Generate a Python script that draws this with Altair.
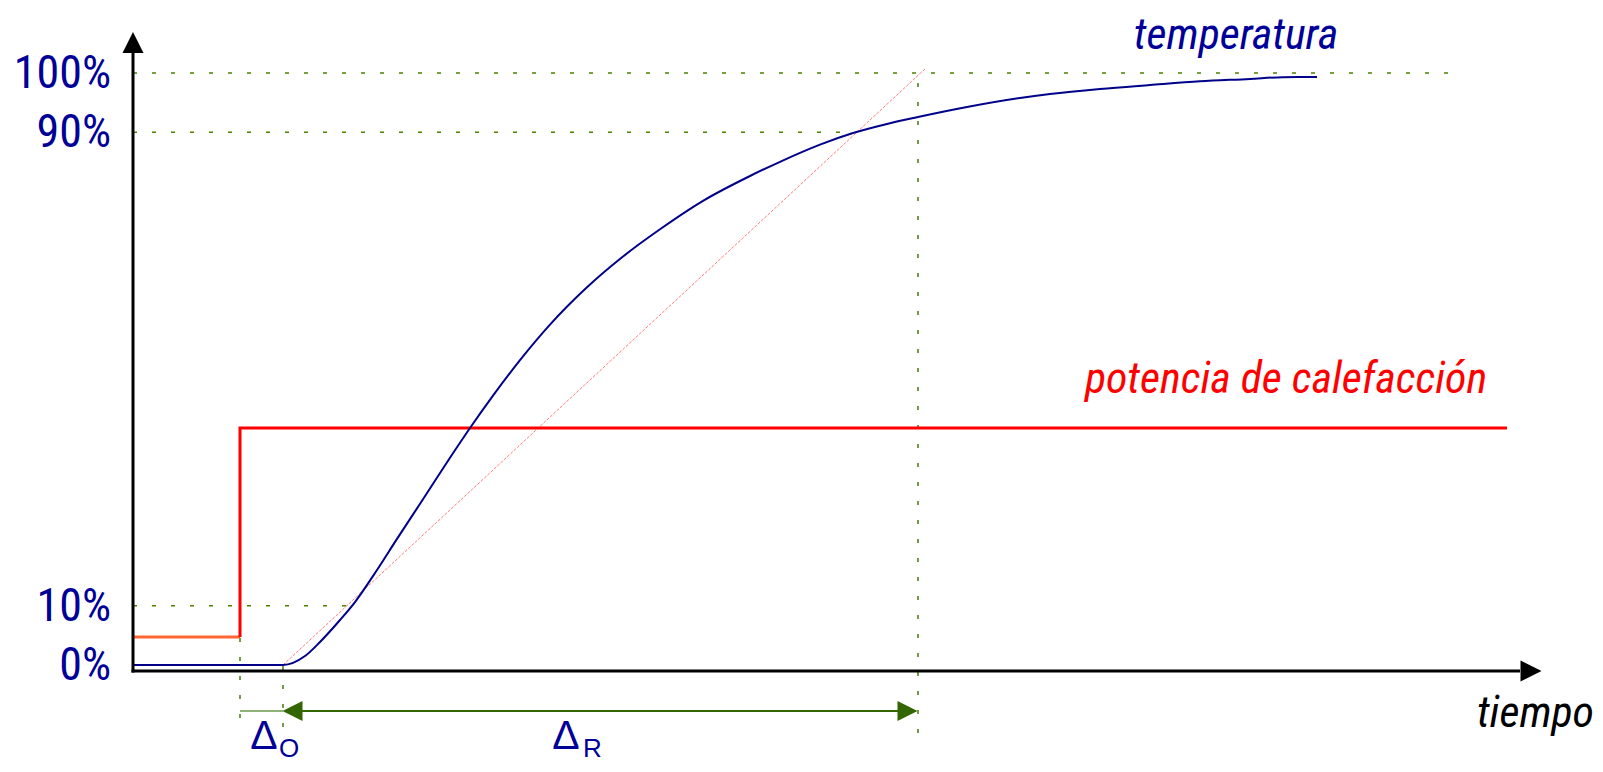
import altair as alt
import pandas as pd

# ---- data (time in arbitrary units, response in percent) ----
curve_t = [0, 15.0, 17.2, 18.7, 20.7, 22.2, 24.4, 26.4, 29.0, 31.7, 33.7, 36.0, 38.7, 41.7,
           45.4, 49.0, 52.7, 57.0, 61.7, 64.7, 68.7, 72.0, 75.4, 78.5, 83.4, 88.7, 91.7,
           96.7, 101.7, 106.7, 111.7, 115.0, 118.4]
curve_v = [0, 0, 1.52, 3.89, 7.60, 10.64, 16.05, 21.3, 28.0, 35.0, 40.03, 45.5, 51.5,
           57.5, 63.8, 69.0, 73.6, 78.4, 82.6, 85.0, 87.9, 89.86, 91.4, 92.57, 94.26,
           95.78, 96.45, 97.30, 97.97, 98.6, 99.0, 99.3, 99.32]

step_time = 10.7          # heating power switched on
dead_end = 15.0           # end of dead time (Delta_O)
resp_end = 78.5           # end of rise time (Delta_R)
power_low = 4.73
power_high = 40.03
power_end = 137.4

tangent_t = [15.0, 79.3]
tangent_v = [0.0, 100.84]

guide_levels = [100, 90, 10]
guide_ends = [132.2, 72.0, 22.0]

vguide_t = [step_time, dead_end, resp_end]
vguide_top = [power_low, 0.0, 100.0]
vguide_bottom = [-8.95, -10.47, -11.49]

tick_values = [0, 10, 90, 100]
tick_labels = ["0%", "10%", "90%", "100%"]

# ---- scales ----
XS = alt.Scale(domain=[-12.5, 146.2], nice=False, zero=False)
YS = alt.Scale(domain=[-16.72, 110.98], nice=False, zero=False)


def xq(f):
    return alt.X(f, type="quantitative", scale=XS, axis=None)


def yq(f):
    return alt.Y(f, type="quantitative", scale=YS, axis=None)


GREEN_H = "#4f8000"
GREEN_V = "#739a48"
BLUE = "#000099"
NARROW = "Liberation Sans Narrow, Arial Narrow, Roboto Condensed, DejaVu Sans Condensed, sans-serif"

layers = []

# horizontal dotted guides
hg = pd.DataFrame({"t0": [0.0] * 3, "t1": guide_ends, "v": guide_levels})
layers.append(alt.Chart(hg).mark_rule(color=GREEN_H, strokeWidth=1.6, strokeDash=[4, 15]).encode(
    x=xq("t0"), x2="t1", y=yq("v")))

# vertical dotted guides
vg = pd.DataFrame({"t": vguide_t, "v0": vguide_bottom, "v1": vguide_top})
layers.append(alt.Chart(vg).mark_rule(color=GREEN_V, strokeWidth=2, strokeDash=[4, 15]).encode(
    x=xq("t"), y=yq("v0"), y2="v1"))

# tangent line
tg = pd.DataFrame({"t": tangent_t, "v": tangent_v})
layers.append(alt.Chart(tg).mark_line(color="#ff6666", strokeWidth=1, strokeDash=[3, 1.5], opacity=0.85).encode(
    x=xq("t"), y=yq("v")))

# heating power: low level (orange) then step + high level (red)
low = pd.DataFrame({"t": [0.0, step_time], "v": [power_low, power_low]})
layers.append(alt.Chart(low).mark_line(color="#ff6633", strokeWidth=3).encode(x=xq("t"), y=yq("v")))
high = pd.DataFrame({"t": [step_time, step_time, power_end], "v": [power_low, power_high, power_high],
                     "o": [0, 1, 2]})
layers.append(alt.Chart(high).mark_line(color="#ff0000", strokeWidth=3).encode(
    x=xq("t"), y=yq("v"), order="o:Q"))

# temperature curve
cv = pd.DataFrame({"t": curve_t, "v": curve_v})
layers.append(alt.Chart(cv).mark_line(color="#00008b", strokeWidth=2, interpolate="monotone").encode(
    x=xq("t"), y=yq("v")))

# axes
axv = pd.DataFrame({"t": [0.0], "v0": [-1.25], "v1": [103.4]})
layers.append(alt.Chart(axv).mark_rule(color="black", strokeWidth=3).encode(x=xq("t"), y=yq("v0"), y2="v1"))
axh = pd.DataFrame({"t0": [-0.15], "t1": [138.7], "v": [-1.0]})
layers.append(alt.Chart(axh).mark_rule(color="black", strokeWidth=3).encode(x=xq("t0"), x2="t1", y=yq("v")))
up = pd.DataFrame({"t": [0.0], "v": [105.15]})
layers.append(alt.Chart(up).mark_point(shape="M0,-1L1,1L-1,1Z", filled=True, size=441, color="black",
                                       opacity=1, strokeWidth=0).encode(x=xq("t"), y=yq("v")))
right = pd.DataFrame({"t": [139.8], "v": [-1.0]})
layers.append(alt.Chart(right).mark_point(shape="M1,0L-1,-1L-1,1Z", filled=True, size=441, color="black",
                                          opacity=1, strokeWidth=0).encode(x=xq("t"), y=yq("v")))

# delay arrows
arrow_v = -7.77
thin = pd.DataFrame({"t0": [step_time], "t1": [dead_end], "v": [arrow_v]})
layers.append(alt.Chart(thin).mark_rule(color="#6a9a4a", strokeWidth=1.5).encode(x=xq("t0"), x2="t1", y=yq("v")))
main = pd.DataFrame({"t0": [dead_end + 1.0], "t1": [resp_end - 1.0], "v": [arrow_v]})
layers.append(alt.Chart(main).mark_rule(color="#336600", strokeWidth=2).encode(x=xq("t0"), x2="t1", y=yq("v")))
lh = pd.DataFrame({"t": [dead_end + 0.95], "v": [arrow_v]})
layers.append(alt.Chart(lh).mark_point(shape="M-1,0L1,-1L1,1Z", filled=True, size=400, color="#336600",
                                       opacity=1, strokeWidth=0).encode(x=xq("t"), y=yq("v")))
rh = pd.DataFrame({"t": [resp_end - 1.05], "v": [arrow_v]})
layers.append(alt.Chart(rh).mark_point(shape="M1,0L-1,-1L-1,1Z", filled=True, size=400, color="#336600",
                                       opacity=1, strokeWidth=0).encode(x=xq("t"), y=yq("v")))

# tick labels
tl = pd.DataFrame({"t": [-2.2] * 4, "v": tick_values, "label": tick_labels})
layers.append(alt.Chart(tl).mark_text(font=NARROW, fontSize=46, color=BLUE, align="right",
                                      baseline="alphabetic", dy=15).encode(x=xq("t"), y=yq("v"), text="label:N"))

# series labels
ann = pd.DataFrame({
    "t": [110.3, 115.3, 140.25],
    "v": [104.05, 45.95, -10.47],
    "label": ["temperatura", "potencia de calefacción", "tiempo"],
    "c": ["#000099", "#ff0000", "#000000"],
})
layers.append(alt.Chart(ann).mark_text(font=NARROW, fontSize=44, fontStyle="italic", align="center",
                                       baseline="alphabetic").encode(
    x=xq("t"), y=yq("v"), text="label:N", color=alt.Color("c:N", scale=None)))

# Delta labels
dl = pd.DataFrame({"t": [13.1, 43.3], "v": [-14.2, -14.2], "label": ["Δ", "Δ"]})
layers.append(alt.Chart(dl).mark_text(font="Liberation Sans, sans-serif", fontSize=41, color=BLUE,
                                      align="center", baseline="alphabetic").encode(
    x=xq("t"), y=yq("v"), text="label:N"))
sl = pd.DataFrame({"t": [14.6, 45.0], "v": [-15.6, -15.6], "label": ["O", "R"]})
layers.append(alt.Chart(sl).mark_text(font="Liberation Sans, sans-serif", fontSize=26, color=BLUE,
                                      align="left", baseline="alphabetic").encode(
    x=xq("t"), y=yq("v"), text="label:N"))

chart = alt.layer(*layers).properties(
    width=1587, height=756, autosize="none", padding=0
).configure_view(stroke=None)

chart.save("out.html", embed_options={"renderer": "svg", "actions": False})
